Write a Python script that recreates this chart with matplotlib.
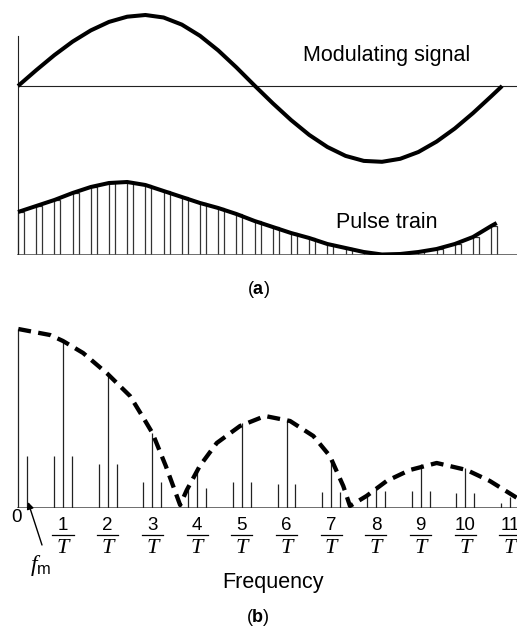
import matplotlib
matplotlib.use('Agg')
import matplotlib.pyplot as plt

plt.rcParams['font.family'] = ['Liberation Sans', 'DejaVu Sans']
plt.rcParams['mathtext.fontset'] = 'custom'
plt.rcParams['mathtext.rm'] = 'Liberation Sans'
plt.rcParams['mathtext.it'] = 'Liberation Serif:italic'
plt.rcParams['mathtext.bf'] = 'Liberation Sans:bold'

# ---- (a) time domain, x in pulse periods ----
sig_t = list(range(27)) + [26.6]
sig_v = [0, 15.8, 30.9, 44.4, 55.6, 64.1, 69.3, 71.0, 68.5, 61.4, 50.2, 35.6,
         18.6, 0.4, -17.3, -34.0, -48.9, -61.0, -69.9, -74.9, -75.8, -72.8,
         -66.0, -55.6, -42.5, -27.1, -10.3, 0]

pulse_t = list(range(27))
pulse_h = [43, 49, 55, 62, 68, 72, 73, 70, 64, 58, 52, 47, 41, 34, 28, 22,
           17, 11, 7, 3, 0.5, 1, 3, 6, 11, 18, 29]
env_t = pulse_t + [26.3]
env_h = pulse_h + [32]

# ---- (b) spectrum, x in units of 1/T ----
harm_f = list(range(12))
harm_h = [179, 167, 134, 75, 40, 85, 88, 46, 20, 44, 40, 11]
fm = 0.2
lower_n = list(range(1, 12))
lower_h = [52, 44, 26, 20, 26, 24, 16, 13, 17, 15, 5]
upper_n = list(range(0, 11))
upper_h = [52, 52, 44, 26, 20, 26, 24, 16, 17, 17, 15]

sinc_f = [0, 0.71, 1, 1.45, 2, 2.5, 2.8, 3, 3.3, 3.62,
          3.77, 4.06, 4.44, 4.96, 5.52, 6.08, 6.6, 6.97, 7.27, 7.42,
          7.79, 8.24, 8.76, 9.36, 10.03, 10.55, 11.16]
sinc_h = [179, 173, 167, 155, 134, 112, 90, 75, 42, 3,
          18, 42, 65, 82, 92, 87, 72, 52, 22, 2,
          12, 27, 38, 45, 38, 27, 10]
tick_num = [str(n) for n in range(1, 12)]

W, H = 517, 632
fig = plt.figure(figsize=(W / 100, H / 100), dpi=100)
line_c = '#222222'

ax_a = fig.add_axes([0, (H - 255) / H, 1, 255 / H])
ax_a.set_xlim(-18 / 18.2, (W - 18) / 18.2)
ax_a.set_ylim(0, 255)
ax_a.axis('off')
sig_base = 169
ax_a.plot([0, 30], [sig_base, sig_base], color=line_c, lw=0.8)
ax_a.plot([0, 30], [0, 0], color='#555555', lw=1.2)
ax_a.plot([0, 0], [0, 219], color=line_c, lw=0.8)
ax_a.plot(sig_t, [v + sig_base for v in sig_v], color='black', lw=2.9,
          solid_capstyle='butt')
ax_a.bar(pulse_t, pulse_h, width=0.33, align='edge', fill=False,
         edgecolor='#333333', linewidth=0.9)
ax_a.plot(env_t, env_h, color='black', lw=2.9, solid_capstyle='butt')
ax_a.text(20.27, 200, 'Modulating signal', fontsize=15.5, ha='center', va='center')
ax_a.text(20.25, 32, 'Pulse train', fontsize=15.5, ha='center', va='center')
ax_a.text(13.19, -34, r'($\mathbf{a}$)', fontsize=13, ha='center', va='center')

ax_b = fig.add_axes([0, (H - 508) / H, 1, 208 / H])
ax_b.set_xlim(-18.3 / 44.7, (W - 18.3) / 44.7)
ax_b.set_ylim(0, 208)
ax_b.axis('off')
ax_b.plot([0, 12], [0, 0], color='#555555', lw=1.2)
ax_b.vlines(harm_f, 0, harm_h, color=line_c, lw=0.9)
ax_b.vlines([n - fm for n in lower_n], 0, lower_h, color=line_c, lw=0.9)
ax_b.vlines([n + fm for n in upper_n], 0, upper_h, color=line_c, lw=0.9)
ax_b.plot(sinc_f, sinc_h, color='black', lw=3.1, dashes=(3, 1.7),
          dash_capstyle='butt')

# tick labels: 0, then n over T
ax_b.text(-0.03, -10, '0', fontsize=13.5, ha='center', va='center')
for n in range(1, 12):
    ax_b.text(n, -18, tick_num[n - 1], fontsize=13.5, ha='center', va='center')
    ax_b.plot([n - 0.235, n + 0.235], [-27, -27], color='black', lw=0.9,
              clip_on=False)
    ax_b.text(n, -40.5, 'T', fontsize=16, family='Liberation Serif',
              style='italic', ha='center', va='center')
ax_b.annotate('', xy=(0.217, 6), xytext=(0.53, -37), annotation_clip=False,
              arrowprops=dict(arrowstyle='-|>', lw=1, color='black',
                              mutation_scale=10, shrinkA=0, shrinkB=0))
ax_b.text(0.49, -57, r'$f_{\mathrm{m}}$', fontsize=17, ha='center', va='center')
ax_b.text(5.7, -74.5, 'Frequency', fontsize=15.5, ha='center', va='center')
ax_b.text(5.36, -110, r'($\mathbf{b}$)', fontsize=13, ha='center', va='center')

fig.savefig('out.png', dpi=100)
